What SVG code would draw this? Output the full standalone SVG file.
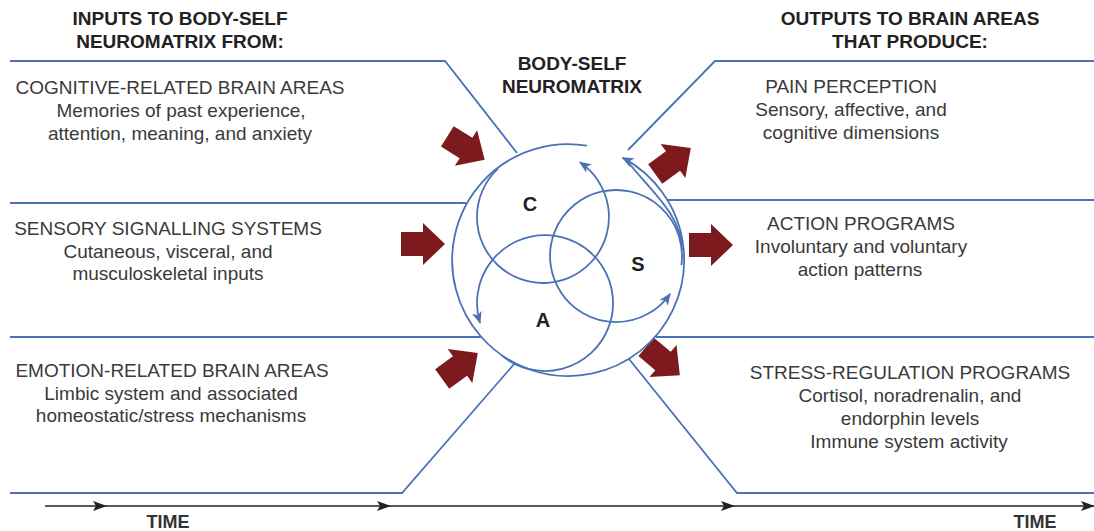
<svg xmlns="http://www.w3.org/2000/svg" xmlns:xlink="http://www.w3.org/1999/xlink" width="1094" height="531" viewBox="0 0 1094 531">
  <style>
    .hdr { font-family: "Liberation Sans", Arial, sans-serif; font-size: 19px; font-weight: bold; fill: #222; text-anchor: middle; }
    .ttl { font-family: "Liberation Sans", Arial, sans-serif; font-size: 19px; fill: #3a3a3a; text-anchor: middle; }
    .sub { font-family: "Liberation Sans", Arial, sans-serif; font-size: 19px; fill: #3a3a3a; text-anchor: middle; }
    .lbl { font-family: "Liberation Sans", Arial, sans-serif; font-size: 20px; font-weight: bold; fill: #222; text-anchor: middle; }
    .time { font-family: "Liberation Sans", Arial, sans-serif; font-size: 18px; font-weight: bold; fill: #333; text-anchor: middle; }
    .bl { fill: none; stroke: #4b72b6; stroke-width: 1.8; }
    .ax { fill: none; stroke: #222; stroke-width: 1.6; }
    .red { fill: #7d1a1d; }
  </style>
  <defs>
    <marker id="bh" viewBox="0 0 12 10" refX="11" refY="5" markerWidth="12" markerHeight="10" markerUnits="userSpaceOnUse" orient="auto">
      <path d="M0,0 L12,5 L0,10 L3,5 Z" fill="#4b72b6"/>
    </marker>
    <marker id="kh" viewBox="0 0 14 10" refX="13" refY="5" markerWidth="14" markerHeight="10" markerUnits="userSpaceOnUse" orient="auto">
      <path d="M0,0 L14,5 L0,10 L3,5 Z" fill="#222"/>
    </marker>
    <path id="fat" d="M-22,-12 H0 V-21 L22,0 L0,21 V12 H-22 Z"/>
  </defs>
  <rect width="1094" height="531" fill="#fff"/>

  <g id="connectors">
    <!-- left frame lines -->
    <path class="bl" d="M10,61 H445 L517,153"/>
    <path class="bl" d="M10,203 H466"/>
    <path class="bl" d="M10,337 H481"/>
    <path class="bl" d="M10,493 H402 L515,363"/>
    <!-- right frame lines -->
    <path class="bl" d="M628,150 L715,61 H1094"/>
    <path class="bl" d="M667,200 H1094"/>
    <path class="bl" d="M656,337 H1094"/>
    <path class="bl" d="M629,359 L737,493 H1094"/>
    <!-- time axis -->
    <path class="ax" d="M45,506 H106" marker-end="url(#kh)"/>
    <path class="ax" d="M106,506 H390" marker-end="url(#kh)"/>
    <path class="ax" d="M390,506 H734" marker-end="url(#kh)"/>
    <path class="ax" d="M734,506 H1094" marker-end="url(#kh)"/>
    <!-- red input/output arrows -->
    <use xlink:href="#fat" class="red" transform="translate(466,148) rotate(32)"/>
    <use xlink:href="#fat" class="red" transform="translate(423,244)"/>
    <use xlink:href="#fat" class="red" transform="translate(460,366) rotate(-36)"/>
    <use xlink:href="#fat" class="red" transform="translate(673,161) rotate(-36)"/>
    <use xlink:href="#fat" class="red" transform="translate(711,245)"/>
    <use xlink:href="#fat" class="red" transform="translate(663,361) rotate(40)"/>
  </g>

  <g id="neuromatrix">
    <path class="bl" d="M586.9,145.6 A116,116 0 1 0 622.5,157.6" marker-end="url(#bh)"/>
    <path class="bl" d="M682,250 C682,215 650,190 628,162"/>
    <text class="hdr" x="572" y="70">BODY-SELF</text>
    <text class="hdr" x="572" y="93">NEUROMATRIX</text>
  </g>
  <g id="circle-c">
    <path class="bl" d="M498,168.7 A66,66 0 1 0 579.9,162.3" marker-end="url(#bh)"/>
    <text class="lbl" x="530" y="211">C</text>
  </g>
  <g id="circle-s">
    <path class="bl" d="M681.4,265.2 A66,66 0 1 0 670.1,293.9" marker-end="url(#bh)"/>
    <text class="lbl" x="638" y="271">S</text>
  </g>
  <g id="circle-a">
    <path class="bl" d="M501.3,355.1 A68,68 0 1 0 480,322.9" marker-end="url(#bh)"/>
    <text class="lbl" x="543" y="327">A</text>
  </g>

  <g id="inputs-header">
    <text class="hdr" x="180" y="25">INPUTS TO BODY-SELF</text>
    <text class="hdr" x="180" y="48">NEUROMATRIX FROM:</text>
  </g>
  <g id="input-cognitive">
    <text class="ttl" x="180" y="94">COGNITIVE-RELATED BRAIN AREAS</text>
    <text class="sub" x="181" y="117">Memories of past experience,</text>
    <text class="sub" x="180" y="140">attention, meaning, and anxiety</text>
  </g>
  <g id="input-sensory">
    <text class="ttl" x="168" y="235">SENSORY SIGNALLING SYSTEMS</text>
    <text class="sub" x="168" y="258">Cutaneous, visceral, and</text>
    <text class="sub" x="168" y="280">musculoskeletal inputs</text>
  </g>
  <g id="input-emotion">
    <text class="ttl" x="172" y="377">EMOTION-RELATED BRAIN AREAS</text>
    <text class="sub" x="171" y="400">Limbic system and associated</text>
    <text class="sub" x="171" y="422">homeostatic/stress mechanisms</text>
  </g>

  <g id="outputs-header">
    <text class="hdr" x="910" y="25">OUTPUTS TO BRAIN AREAS</text>
    <text class="hdr" x="910" y="48">THAT PRODUCE:</text>
  </g>
  <g id="output-pain">
    <text class="ttl" x="851" y="93">PAIN PERCEPTION</text>
    <text class="sub" x="851" y="116">Sensory, affective, and</text>
    <text class="sub" x="851" y="139">cognitive dimensions</text>
  </g>
  <g id="output-action">
    <text class="ttl" x="861" y="230">ACTION PROGRAMS</text>
    <text class="sub" x="861" y="253">Involuntary and voluntary</text>
    <text class="sub" x="860" y="276">action patterns</text>
  </g>
  <g id="output-stress">
    <text class="ttl" x="910" y="379">STRESS-REGULATION PROGRAMS</text>
    <text class="sub" x="910" y="402">Cortisol, noradrenalin, and</text>
    <text class="sub" x="910" y="425">endorphin levels</text>
    <text class="sub" x="909" y="448">Immune system activity</text>
  </g>

  <g id="time-labels">
    <text class="time" x="168" y="528">TIME</text>
    <text class="time" x="1035" y="528">TIME</text>
  </g>
</svg>
